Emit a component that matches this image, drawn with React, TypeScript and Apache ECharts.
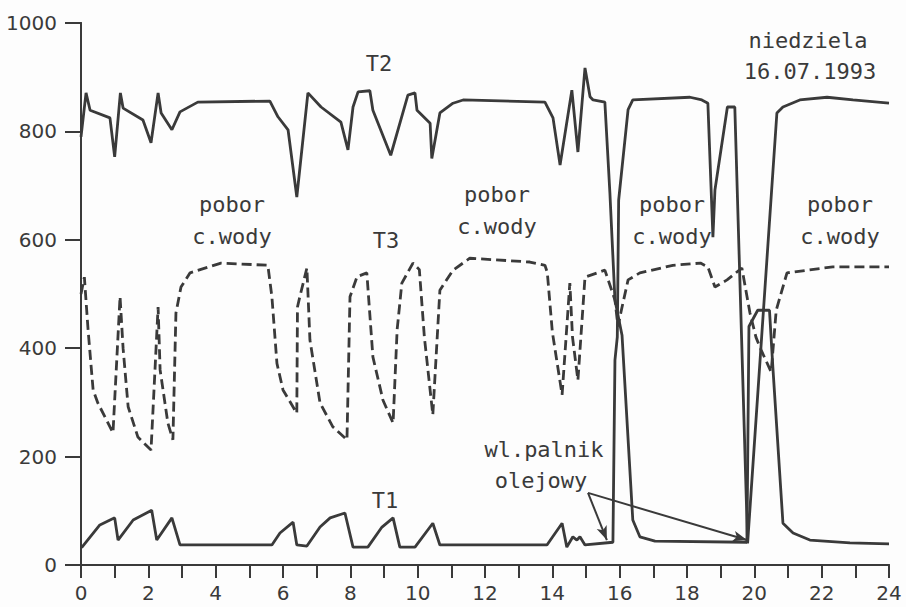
import React, { useEffect, useRef } from "react";
import * as echarts from "echarts";

// ---- data (hours, values) ----
const t2Hours = [0, 0.15, 0.27, 0.86, 1.0, 1.17, 1.25, 1.84, 2.08, 2.29, 2.38, 2.7, 2.94, 3.47, 5.61, 5.85, 6.15, 6.41, 6.74, 7.13, 7.72, 7.93, 8.08, 8.23, 8.58, 8.67, 9.2, 9.71, 9.92, 9.98, 10.37, 10.42, 10.66, 11.05, 11.35, 13.78, 14.02, 14.23, 14.58, 14.76, 14.97, 15.12, 15.21, 15.56, 15.71, 15.86, 16.07, 16.39, 16.6, 17.05, 19.78, 19.84, 20.1, 20.45, 20.55, 20.85, 21.15, 21.65, 22.84, 24];
const t2Values = [790, 871, 839, 825, 753, 871, 843, 821, 779, 871, 834, 803, 836, 854, 856, 827, 803, 679, 871, 845, 817, 766, 845, 873, 875, 839, 756, 867, 871, 839, 815, 750, 834, 852, 858, 854, 825, 738, 876, 762, 917, 864, 858, 854, 686, 489, 424, 83, 52, 44, 42, 440, 470, 470, 365, 77, 59, 46, 41, 39];

const t1Hours = [0, 0.03, 0.56, 1.0, 1.1, 1.55, 2.1, 2.25, 2.7, 2.94, 5.67, 5.91, 6.3, 6.41, 6.71, 7.1, 7.4, 7.84, 8.08, 8.52, 8.94, 9.27, 9.47, 9.92, 10.45, 10.66, 13.84, 14.29, 14.43, 14.61, 14.73, 14.82, 14.97, 15.8, 15.86, 15.93, 15.97, 16.25, 16.39, 18.09, 18.44, 18.62, 18.77, 18.83, 19.2, 19.42, 19.8, 20.67, 20.85, 21.35, 22.16, 22.93, 24];
const t1Values = [33, 33, 74, 87, 46, 83, 101, 46, 87, 37, 37, 59, 79, 37, 35, 70, 87, 96, 33, 33, 70, 87, 33, 33, 77, 37, 37, 77, 33, 52, 46, 52, 37, 42, 378, 421, 673, 840, 858, 863, 858, 852, 605, 692, 845, 845, 40, 834, 845, 858, 863, 858, 852];

const t3Hours = [0, 0.1, 0.21, 0.36, 0.5, 0.95, 1.16, 1.25, 1.4, 1.69, 2.08, 2.29, 2.35, 2.58, 2.73, 2.82, 2.97, 3.24, 4.16, 5.55, 5.67, 5.82, 6.0, 6.41, 6.43, 6.5, 6.71, 6.8, 7.1, 7.48, 7.9, 7.99, 8.2, 8.49, 8.67, 8.97, 9.27, 9.39, 9.53, 9.86, 10.05, 10.2, 10.45, 10.66, 11.05, 11.55, 13.33, 13.78, 13.85, 14.0, 14.29, 14.52, 14.6, 14.76, 14.97, 15.56, 15.86, 15.95, 16.05, 16.25, 16.6, 17.58, 18.4, 18.62, 18.83, 19.19, 19.63, 19.87, 20.05, 20.2, 20.5, 20.65, 20.97, 22.33, 24];
const t3Values = [500, 531, 434, 323, 299, 244, 495, 400, 292, 236, 212, 476, 360, 262, 231, 465, 513, 539, 557, 553, 495, 372, 323, 280, 476, 495, 548, 415, 299, 255, 231, 495, 532, 539, 384, 304, 262, 434, 520, 557, 545, 420, 277, 507, 544, 566, 559, 553, 540, 430, 314, 520, 420, 341, 531, 544, 489, 440, 470, 526, 539, 553, 557, 550, 513, 526, 548, 465, 420, 397, 356, 470, 539, 550, 550];

const xTicks = [0, 24];
const yTicks = [0, 1000];

const zip = (h: number[], v: number[]) => h.map((x, i) => [x, v[i]]);

const INK = "#3a3a3a";
const MONO = '"DejaVu Sans Mono", monospace';

export default function App() {
  const ref = useRef<HTMLDivElement>(null);
  useEffect(() => {
    const chart = echarts.init(ref.current!, null, { renderer: "svg" });
    const txt = (x: number, y: number, s: string) => ({
      type: "text",
      x,
      y,
      style: {
        text: s,
        font: `22px ${MONO}`,
        fill: INK,
        textAlign: "center",
        textVerticalAlign: "middle",
      },
    });
    chart.setOption({
      animation: false,
      backgroundColor: "#fdfdfd",
      grid: { left: 81, right: 17, top: 23, bottom: 42 },
      xAxis: [
        {
          type: "value",
          min: xTicks[0],
          max: xTicks[1],
          interval: 1,
          axisLine: { lineStyle: { color: INK, width: 2 } },
          axisTick: { length: 13, lineStyle: { color: INK, width: 2 } },
          splitLine: { show: false },
          axisLabel: {
            margin: 18,
            color: INK,
            fontSize: 20,
            fontFamily: "DejaVu Sans",
            formatter: (v: number) => (v % 2 === 0 ? String(v) : ""),
          },
        },
        {
          type: "value",
          position: "top",
          min: xTicks[0],
          max: xTicks[1],
          axisLine: { show: true, lineStyle: { color: INK, width: 2 } },
          axisTick: { show: false },
          axisLabel: { show: false },
          splitLine: { show: false },
        },
      ],
      yAxis: [
        {
          type: "value",
          min: yTicks[0],
          max: yTicks[1],
          interval: 200,
          axisLine: { show: true, lineStyle: { color: INK, width: 2 } },
          axisTick: { show: true, length: 16, lineStyle: { color: INK, width: 2 } },
          splitLine: { show: false },
          axisLabel: {
            margin: 24,
            color: INK,
            fontSize: 20,
            fontFamily: "DejaVu Sans",
            formatter: (v: number) => String(v),
          },
        },
        {
          type: "value",
          position: "right",
          min: yTicks[0],
          max: yTicks[1],
          axisLine: { show: true, lineStyle: { color: INK, width: 2 } },
          axisTick: { show: false },
          axisLabel: { show: false },
          splitLine: { show: false },
        },
      ],
      series: [
        {
          name: "T2",
          type: "line",
          data: zip(t2Hours, t2Values),
          showSymbol: false,
          lineStyle: { color: INK, width: 2.8 },
        },
        {
          name: "T1",
          type: "line",
          data: zip(t1Hours, t1Values),
          showSymbol: false,
          lineStyle: { color: INK, width: 2.8 },
          markLine: {
            silent: true,
            symbol: ["none", "arrow"],
            symbolSize: [8, 14],
            label: { show: false },
            lineStyle: { color: INK, width: 2, type: "solid" },
            data: [
              [{ coord: [15.06, 133] }, { coord: [15.62, 46] }],
              [{ coord: [15.06, 133] }, { coord: [19.78, 46] }],
            ],
          },
        },
        {
          name: "T3",
          type: "line",
          data: zip(t3Hours, t3Values),
          showSymbol: false,
          lineStyle: { color: INK, width: 2.8, type: [10, 5] },
        },
      ],
      graphic: [
        txt(379, 63, "T2"),
        txt(386, 240, "T3"),
        txt(385, 500, "T1"),
        txt(232, 204, "pobor"),
        txt(232, 236, "c.wody"),
        txt(497, 194, "pobor"),
        txt(497, 226, "c.wody"),
        txt(672, 204, "pobor"),
        txt(672, 236, "c.wody"),
        txt(840, 204, "pobor"),
        txt(840, 236, "c.wody"),
        txt(808, 40, "niedziela"),
        txt(810, 71, "16.07.1993"),
        txt(544, 449, "wl.palnik"),
        txt(541, 480, "olejowy"),
      ],
    });
    return () => chart.dispose();
  }, []);
  return (
    <div
      ref={ref}
      style={{ position: "fixed", left: 0, top: 0, width: 906, height: 607 }}
    />
  );
}
